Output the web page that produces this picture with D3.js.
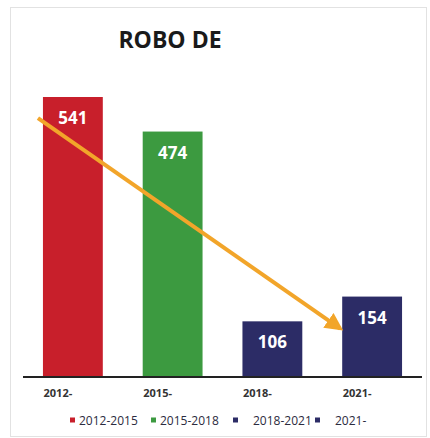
<!DOCTYPE html>
<html>
<head>
<meta charset="utf-8">
<script src="https://cdn.jsdelivr.net/npm/d3@7"></script>
<style>
  body { margin: 0; background: #fff; }
  text { font-family: "Open Sans", "Noto Sans", sans-serif; }
</style>
</head>
<body>
<div id="chart"></div>
<script>
var categories = ['2012-', '2015-', '2018-', '2021-'];
var values = [541, 474, 106, 154];
var seriesNames = ['2012-2015', '2015-2018', '2018-2021', '2021-'];
var colors = ['#c81f2b', '#3c9a40', '#2c2c66', '#2c2c66'];
// trend arrow, in data terms (value at start and end)
var trendValues = [500, 92];

var width = 430, height = 438;

var svg = d3.select('#chart')
    .append('svg')
    .attr('width', width)
    .attr('height', height);

// frame
svg.append('rect')
    .attr('x', 10.5).attr('y', 7.5)
    .attr('width', 416).attr('height', 429)
    .attr('fill', 'none')
    .attr('stroke', '#e2e2e2');

svg.append('text')
    .attr('x', 170)
    .attr('y', 48)
    .attr('text-anchor', 'middle')
    .attr('font-size', 23)
    .attr('font-weight', 'bold')
    .attr('fill', '#1a1a1a')
    .text('ROBO DE');

var x = d3.scaleBand()
    .domain(categories)
    .range([23, 422])
    .paddingInner(0.4)
    .paddingOuter(0.2);

var y = d3.scaleLinear()
    .domain([0, 541])
    .range([376, 97]);

svg.selectAll('rect.bar')
    .data(values)
    .enter()
    .append('rect')
    .attr('class', 'bar')
    .attr('x', function(d, i) { return x(categories[i]); })
    .attr('width', x.bandwidth())
    .attr('y', function(d) { return y(d); })
    .attr('height', function(d) { return y(0) - y(d); })
    .attr('fill', function(d, i) { return colors[i]; });

svg.selectAll('text.val')
    .data(values)
    .enter()
    .append('text')
    .attr('class', 'val')
    .attr('x', function(d, i) { return x(categories[i]) + x.bandwidth() / 2; })
    .attr('y', function(d) { return y(d) + 27; })
    .attr('text-anchor', 'middle')
    .attr('font-size', 17)
    .attr('font-weight', 'bold')
    .attr('fill', '#fff')
    .text(function(d) { return d; });

// baseline
svg.append('line')
    .attr('x1', 23).attr('x2', 422)
    .attr('y1', y(0) + 1).attr('y2', y(0) + 1)
    .attr('stroke', '#222')
    .attr('stroke-width', 2);

svg.selectAll('text.cat')
    .data(categories)
    .enter()
    .append('text')
    .attr('class', 'cat')
    .attr('x', function(d) { return x(d) + x.bandwidth() / 2 - 15; })
    .attr('y', 397)
    .attr('text-anchor', 'middle')
    .attr('font-size', 11)
    .attr('font-weight', 'bold')
    .attr('fill', '#333')
    .text(function(d) { return d; });

// trend arrow
svg.append('defs').append('marker')
    .attr('id', 'head')
    .attr('viewBox', '0 0 10 10')
    .attr('refX', 8).attr('refY', 5)
    .attr('markerWidth', 4.5).attr('markerHeight', 4.5)
    .attr('orient', 'auto')
    .append('path')
    .attr('d', 'M0,0L10,5L0,10z')
    .attr('fill', '#f2a52a');

svg.append('line')
    .attr('x1', x(categories[0]) - 5)
    .attr('y1', y(trendValues[0]))
    .attr('x2', x(categories[3]) - 2)
    .attr('y2', y(trendValues[1]))
    .attr('stroke', '#f2a52a')
    .attr('stroke-width', 4)
    .attr('marker-end', 'url(#head)');

// legend
var legendX = [70, 151, 233, 315];
var legendTextX = [9, 9, 20, 20];
var legend = svg.selectAll('g.leg')
    .data(seriesNames)
    .enter()
    .append('g')
    .attr('class', 'leg')
    .attr('transform', function(d, i) { return 'translate(' + legendX[i] + ',421)'; });

legend.append('rect')
    .attr('x', 0).attr('y', -3.5)
    .attr('width', 5).attr('height', 5)
    .attr('fill', function(d, i) { return colors[i]; });

legend.append('text')
    .attr('x', function(d, i) { return legendTextX[i]; })
    .attr('y', 3.5)
    .attr('font-size', 12)
    .attr('fill', '#2b2b40')
    .text(function(d) { return d; });
</script>
</body>
</html>
